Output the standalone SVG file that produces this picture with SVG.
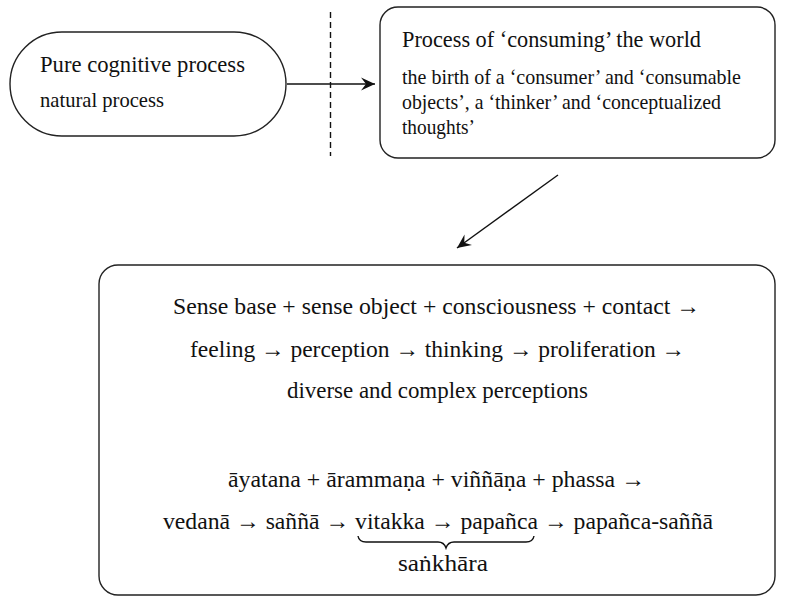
<svg xmlns="http://www.w3.org/2000/svg" width="786" height="610" viewBox="0 0 786 610">
<style>
  .box { fill: #ffffff; stroke: #222222; stroke-width: 1.4; }
  .t { font-family: "Liberation Serif", "DejaVu Serif", serif; fill: #111111; }
  .h { font-size: 23px; }
  .s { font-size: 21px; }
  .b { font-size: 24px; }
  .conn { stroke: #111111; stroke-width: 1.4; fill: none; }
</style>
<defs>
  <marker id="arr" markerUnits="userSpaceOnUse" markerWidth="16" markerHeight="14" viewBox="-14 -7 16 14" refX="0" refY="0" orient="auto">
    <path d="M0,0 L-14,-6.5 L-9,0 L-14,6.5 Z" fill="#111111"/>
  </marker>
</defs>
<rect width="786" height="610" fill="#ffffff"/>

<g id="connectors">
  <line class="conn" x1="330.5" y1="12" x2="330.5" y2="156" stroke-dasharray="6,4"/>
  <line class="conn" x1="287" y1="84" x2="375" y2="84" marker-end="url(#arr)"/>
  <line class="conn" x1="558" y1="175" x2="457" y2="248" marker-end="url(#arr)"/>
</g>

<g id="node-pure">
  <rect class="box" x="10" y="32" width="276" height="104" rx="52" ry="52"/>
  <text class="t h" x="40" y="72" textLength="205" lengthAdjust="spacingAndGlyphs">Pure cognitive process</text>
  <text class="t s" x="40" y="107" textLength="124" lengthAdjust="spacingAndGlyphs">natural process</text>
</g>

<g id="node-consuming">
  <rect class="box" x="380" y="7" width="395" height="151" rx="18" ry="18"/>
  <text class="t h" x="402" y="47" textLength="299" lengthAdjust="spacingAndGlyphs">Process of ‘consuming’ the world</text>
  <text class="t s" x="402" y="84" textLength="339" lengthAdjust="spacingAndGlyphs">the birth of a ‘consumer’ and ‘consumable</text>
  <text class="t s" x="402" y="109" textLength="319" lengthAdjust="spacingAndGlyphs">objects’, a ‘thinker’ and ‘conceptualized</text>
  <text class="t s" x="402" y="134" textLength="73" lengthAdjust="spacingAndGlyphs">thoughts’</text>
</g>

<g id="node-process">
  <rect class="box" x="99" y="265" width="676" height="330" rx="19" ry="19"/>
  <text class="t b" x="173" y="314" textLength="527" lengthAdjust="spacingAndGlyphs">Sense base + sense object + consciousness + contact →</text>
  <text class="t b" x="190" y="357" textLength="495" lengthAdjust="spacingAndGlyphs">feeling → perception → thinking → proliferation →</text>
  <text class="t b" x="287" y="398" textLength="301" lengthAdjust="spacingAndGlyphs">diverse and complex perceptions</text>
  <text class="t b" x="228" y="487" textLength="417" lengthAdjust="spacingAndGlyphs">āyatana + ārammaṇa + viññāṇa + phassa →</text>
  <text class="t b" x="163" y="529" textLength="550" lengthAdjust="spacingAndGlyphs">vedanā → saññā → vitakka → papañca → papañca-saññā</text>
  <path class="conn" stroke-width="1.6" d="M358,536 Q359,542 366,542 L438,542 Q444,542 446,548 Q448,542 454,542 L526,542 Q533,542 534,536"/>
  <text class="t b" x="398" y="571" textLength="90" lengthAdjust="spacingAndGlyphs">saṅkhāra</text>
</g>
</svg>
